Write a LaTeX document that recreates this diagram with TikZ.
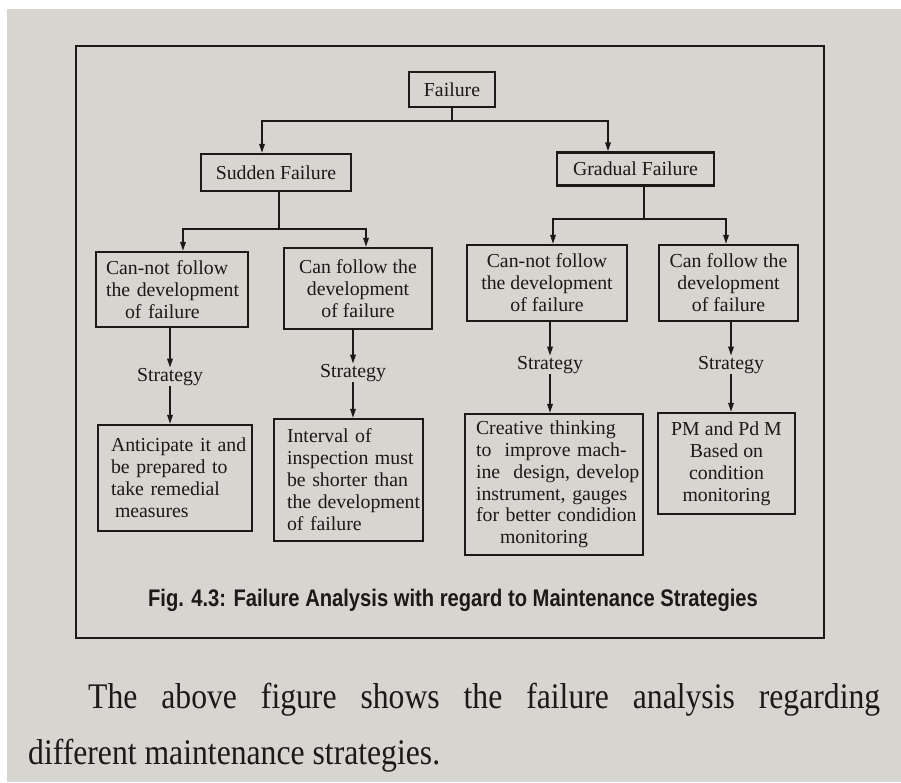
\documentclass[tikz,border=0pt]{standalone}
\usepackage{fontspec}
\setmainfont{Liberation Serif}
\newfontfamily\capfont{Liberation Sans}
\usetikzlibrary{arrows.meta}
\definecolor{paper}{RGB}{214,213,207}
\definecolor{ink}{RGB}{30,24,24}

\begin{document}
\begin{tikzpicture}[x=1pt,y=-1pt,
  box/.style={draw=ink, line width=2.3pt, inner sep=3pt, text=ink,
    font=\fontsize{19.8}{22}\selectfont},
  link/.style={draw=ink, line width=1.5pt},
  arr/.style={link, -{Triangle[length=9pt,width=5.5pt]}},
  strat/.style={inner sep=0.5pt, text=ink, font=\fontsize{19.8}{22}\selectfont},
  body/.style={anchor=base west, inner sep=0pt, text=ink,
    font=\fontsize{36}{42}\selectfont}]

% page
\fill[white] (0,0) rectangle (901,782);
\fill[paper] (7,9) rectangle (901,782);
\useasboundingbox (0,0) rectangle (901,782);

% figure frame
\draw[ink, line width=2.7pt] (76,46) rectangle (824,638);

% level 0 and 1
\node[box, minimum width=86pt, minimum height=35pt] (fail) at (452,89.5) {Failure};
\node[box, minimum width=150pt, minimum height=37pt] (sudden) at (276,172.5) {Sudden Failure};
\node[box, minimum width=157pt, minimum height=33pt] (gradual) at (635.5,169) {Gradual Failure};

% level 2
\node[box, minimum width=152pt, minimum height=75pt, text width=132pt, align=left] (c1) at (172,289.5)
  {\mbox{Can-not follow}\\\mbox{the development}\\\mbox{\hspace{19pt}of failure}};
\node[box, minimum width=148pt, minimum height=81pt, align=center] (c2) at (358,288.5)
  {Can follow the\\development\\of failure};
\node[box, minimum width=160pt, minimum height=76pt, align=center] (c3) at (547,283)
  {Can-not follow\\the development\\of failure};
\node[box, minimum width=139pt, minimum height=76pt, align=center] (c4) at (728.5,283)
  {Can follow the\\development\\of failure};

% strategy labels
\node[strat] (s1) at (170,377) {Strategy};
\node[strat] (s2) at (353,373) {Strategy};
\node[strat] (s3) at (550,365) {Strategy};
\node[strat] (s4) at (731,365) {Strategy};

% level 3
\node[box, minimum width=154pt, minimum height=106pt, text width=128pt, align=left] (b1) at (175,478)
  {\mbox{Anticipate it and}\\\mbox{be prepared to}\\\mbox{take remedial}\\\mbox{\hspace{4pt}measures}};
\node[box, minimum width=149pt, minimum height=122pt, text width=123pt, align=left] (b2) at (348.5,480)
  {\mbox{Interval of}\\\mbox{inspection must}\\\mbox{be shorter than}\\\mbox{the development}\\\mbox{of failure}};
\node[box, minimum width=178pt, minimum height=141pt, text width=156pt, align=left,
  font=\fontsize{19.8}{21.8}\selectfont] (b3) at (554,484.5)
  {\mbox{Creative thinking}\\\mbox{to\ \ improve mach-}\\\mbox{ine\ \ design, develop}\\\mbox{instrument, gauges}\\\mbox{for better condidion}\\\mbox{\hspace{24pt}monitoring}};
\node[box, minimum width=137pt, minimum height=101pt, align=center] (b4) at (726.5,463.5)
  {PM and Pd M\\Based on\\condition\\monitoring};

% connectors
\coordinate (j0) at (452,121);
\coordinate (j1) at (279,229);
\coordinate (j2) at (644,219);
\draw[link] (fail.south) -- (j0);
\draw[arr] (j0) -| ([xshift=-14pt]sudden.north);
\draw[arr] (j0) -| ([xshift=-27.5pt]gradual.north);
\draw[link] (sudden.south -| j1) -- (j1);
\draw[arr] (j1) -| ([xshift=11pt]c1.north);
\draw[arr] (j1) -| ([xshift=8pt]c2.north);
\draw[link] (gradual.south -| j2) -- (j2);
\draw[arr] (j2) -| ([xshift=6pt]c3.north);
\draw[arr] (j2) -| ([xshift=-2.5pt]c4.north);

\foreach \c/\s/\b in {c1/s1/b1, c2/s2/b2, c3/s3/b3, c4/s4/b4}{
  \draw[arr] (\c.south -| \s.north) -- (\s.north);
  \draw[arr] (\s.south) -- (\s.south |- \b.north);
}

% caption
\node[anchor=base, inner sep=0pt, text=ink, font=\capfont\bfseries\fontsize{24}{28}\selectfont]
  (cap) at (453,606) {\scalebox{0.84}[1]{Fig. 4.3: Failure Analysis with regard to Maintenance Strategies}};

% running text below the figure
\node[body] (p1) at (88,708)
  {\scalebox{0.88}[1]{\makebox[900pt][s]{The above figure shows the failure analysis regarding}}};
\node[body] (p2) at (28,764) {\scalebox{0.88}[1]{different maintenance strategies.}};
\end{tikzpicture}
\end{document}
